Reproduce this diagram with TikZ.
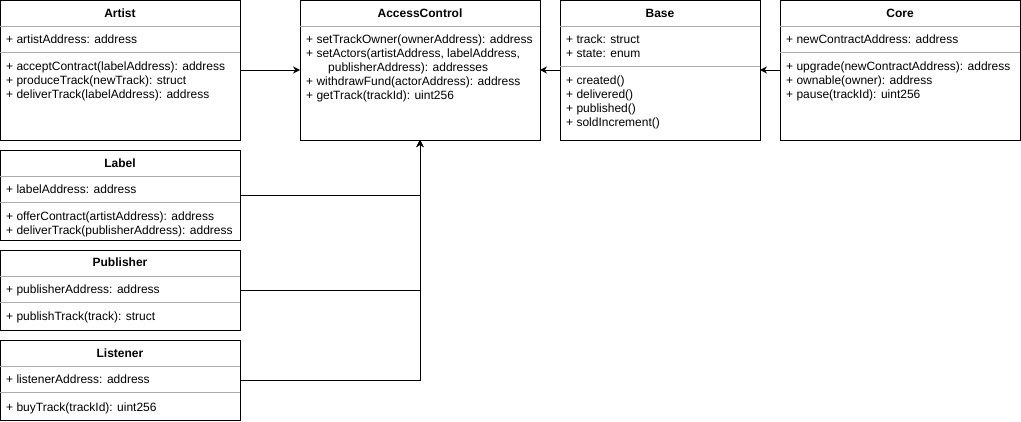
\documentclass[tikz,border=0pt]{standalone}
\usepackage{fontspec}
\setmainfont{Liberation Sans}
\usetikzlibrary{arrows.meta,positioning,calc}

\begin{document}
\begin{tikzpicture}[
    x=1pt, y=-1pt,
    font=\fontsize{12}{14}\selectfont,
    classbox/.style={rectangle, draw, line width=1pt, inner sep=0pt, outer sep=0pt, minimum width=240pt, anchor=north west},
    classtitle/.style={font=\fontsize{12}{14}\selectfont\bfseries, anchor=base, inner sep=0pt},
    members/.style={align=left, anchor=base west, inner sep=0pt},
    divider/.style={draw=gray!65, line width=1pt},
    arrow/.style={-{Stealth[length=7pt,width=7pt]}, line width=1pt}
]
\useasboundingbox (0,0) rectangle (1021,421);

% Top row
\node[classbox, minimum height=140pt] (artist) at (0,0) {};
\node[classbox, minimum height=140pt] (access) at (300,0) {};
\node[classbox, minimum height=140pt, minimum width=200pt] (base) at (560,0) {};
\node[classbox, minimum height=140pt] (core) at (780,0) {};

% Left column
\node[classbox, minimum height=90pt] (label) at (0,150) {};
\node[classbox, minimum height=80pt] (publisher) at (0,250) {};
\node[classbox, minimum height=80pt] (listener) at (0,340) {};

% Artist (multi-line members sit on their last baseline)
\node[classtitle] (artist_title) at ($(artist.north)+(0,17)$) {Artist};
\draw[divider] ($(artist.north west)+(0,26)$) -- ($(artist.north east)+(0,26)$);
\node[members] (artist_attr) at ($(artist.north west)+(6,43)$) {+ artistAddress: address};
\draw[divider] ($(artist.north west)+(0,52)$) -- ($(artist.north east)+(0,52)$);
\node[members] (artist_ops) at ($(artist.north west)+(6,98)$) {
    + acceptContract(labelAddress): address\\
    + produceTrack(newTrack): struct\\
    + deliverTrack(labelAddress): address
};

% AccessControl
\node[classtitle] (access_title) at ($(access.north)+(0,17)$) {AccessControl};
\draw[divider] ($(access.north west)+(0,26)$) -- ($(access.north east)+(0,26)$);
\node[members] (access_ops) at ($(access.north west)+(6,99)$) {
    + setTrackOwner(ownerAddress): address\\
    + setActors(artistAddress, labelAddress,\\
    \hspace*{22pt}publisherAddress): addresses\\
    + withdrawFund(actorAddress): address\\
    + getTrack(trackId): uint256
};

% Base
\node[classtitle] (base_title) at ($(base.north)+(0,17)$) {Base};
\draw[divider] ($(base.north west)+(0,26)$) -- ($(base.north east)+(0,26)$);
\node[members] (base_attr) at ($(base.north west)+(6,57)$) {
    + track: struct\\
    + state: enum
};
\draw[divider] ($(base.north west)+(0,66)$) -- ($(base.north east)+(0,66)$);
\node[members] (base_ops) at ($(base.north west)+(6,126.5)$) {
    + created()\\
    + delivered()\\
    + published()\\
    + soldIncrement()
};

% Core
\node[classtitle] (core_title) at ($(core.north)+(0,17)$) {Core};
\draw[divider] ($(core.north west)+(0,26)$) -- ($(core.north east)+(0,26)$);
\node[members] (core_attr) at ($(core.north west)+(6,43)$) {+ newContractAddress: address};
\draw[divider] ($(core.north west)+(0,52)$) -- ($(core.north east)+(0,52)$);
\node[members] (core_ops) at ($(core.north west)+(6,98.5)$) {
    + upgrade(newContractAddress): address\\
    + ownable(owner): address\\
    + pause(trackId): uint256
};

% Label
\node[classtitle] (label_title) at ($(label.north)+(0,17)$) {Label};
\draw[divider] ($(label.north west)+(0,26)$) -- ($(label.north east)+(0,26)$);
\node[members] (label_attr) at ($(label.north west)+(6,43.5)$) {+ labelAddress: address};
\draw[divider] ($(label.north west)+(0,52)$) -- ($(label.north east)+(0,52)$);
\node[members] (label_ops) at ($(label.north west)+(6,84.5)$) {
    + offerContract(artistAddress): address\\
    + deliverTrack(publisherAddress): address
};

% Publisher
\node[classtitle] (publisher_title) at ($(publisher.north)+(0,16.5)$) {Publisher};
\draw[divider] ($(publisher.north west)+(0,26)$) -- ($(publisher.north east)+(0,26)$);
\node[members] (publisher_attr) at ($(publisher.north west)+(6,43.5)$) {+ publisherAddress: address};
\draw[divider] ($(publisher.north west)+(0,52)$) -- ($(publisher.north east)+(0,52)$);
\node[members] (publisher_ops) at ($(publisher.north west)+(6,70.5)$) {+ publishTrack(track): struct};

% Listener
\node[classtitle] (listener_title) at ($(listener.north)+(0,17)$) {Listener};
\draw[divider] ($(listener.north west)+(0,26)$) -- ($(listener.north east)+(0,26)$);
\node[members] (listener_attr) at ($(listener.north west)+(6,43.5)$) {+ listenerAddress: address};
\draw[divider] ($(listener.north west)+(0,52)$) -- ($(listener.north east)+(0,52)$);
\node[members] (listener_ops) at ($(listener.north west)+(6,71)$) {+ buyTrack(trackId): uint256};

% Connectors
\draw[arrow] (artist.east) -- (access.west);
\draw[arrow] (base.west) -- (access.east);
\draw[arrow] (core.west) -- (base.east);
\draw[arrow] (label.east) -| (access.south);
\draw[arrow] (publisher.east) -| (access.south);
\draw[arrow] (listener.east) -| (access.south);

\end{tikzpicture}
\end{document}
